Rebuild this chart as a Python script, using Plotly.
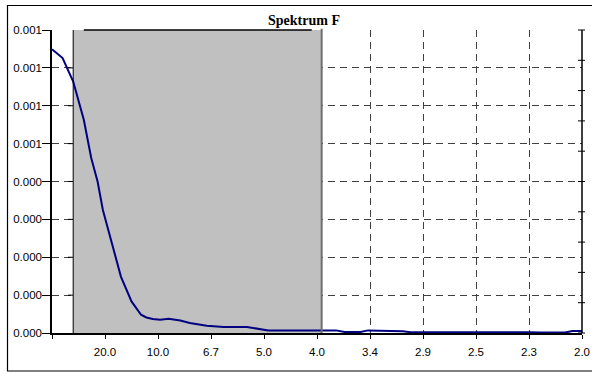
import plotly.graph_objects as go

# ---- data ----
freq = [0.000, 0.010, 0.020, 0.030, 0.037, 0.043, 0.048, 0.055, 0.065, 0.075,
        0.084, 0.089, 0.095, 0.102, 0.110, 0.121, 0.130, 0.146, 0.162, 0.184,
        0.204, 0.268, 0.276, 0.291, 0.298, 0.331, 0.338, 0.451, 0.460, 0.484,
        0.491, 0.500]
spectrum = [0.000749, 0.000726, 0.000664, 0.000563, 0.000462, 0.000400, 0.000325,
            0.000255, 0.000149, 0.0000833, 0.0000483, 0.0000410, 0.0000370,
            0.0000351, 0.0000377, 0.0000332, 0.0000264, 0.0000193, 0.0000158,
            0.0000158, 0.0000069, 0.0000069, 0.0000026, 0.0000026, 0.0000069,
            0.0000047, 0.0000020, 0.0000020, 0.0000010, 0.0000013, 0.0000050,
            0.0000050]

band = [0.02, 0.2544]          # shaded frequency band
band_top_line = [0.030, 0.245]

x_tickvals = [0.0, 0.05, 0.10, 0.15, 0.20, 0.25, 0.30, 0.35, 0.40, 0.45, 0.50]
x_ticktext = ["", "20.0", "10.0", "6.7", "5.0", "4.0", "3.4", "2.9", "2.5", "2.3", "2.0"]
y_tickvals = [0.0, 0.0001, 0.0002, 0.0003, 0.0004, 0.0005, 0.0006, 0.0007, 0.0008]
y_ticktext = ["0.000", "0.000", "0.000", "0.000", "0.000", "0.001", "0.001", "0.001", "0.001"]

X_MAX = 0.5
Y_MAX = 0.0008

fig = go.Figure()
# shaded band as a filled trace (drawn above gridlines, below the spectrum line)
fig.add_trace(go.Scatter(x=[band[0], band[1], band[1], band[0], band[0]],
                         y=[0, 0, Y_MAX, Y_MAX, 0], mode="lines", fill="toself",
                         fillcolor="#C0C0C0", line=dict(width=0, color="#C0C0C0"),
                         showlegend=False, hoverinfo="skip"))
fig.add_trace(go.Scatter(x=freq, y=spectrum, mode="lines",
                         line=dict(color="#000080", width=2), showlegend=False,
                         hoverinfo="skip"))

W, H = 592, 374
ML, MR, MT, MB = 52, 10, 30, 41
pw = W - ML - MR
ph = H - MT - MB

def px2paper_x(px):
    return (px - ML) / pw

def px2paper_y(py):
    return (H - MB - py) / ph

shapes = []
shapes.append(dict(type="line", xref="x", yref="paper", x0=band[1], x1=band[1], y0=0, y1=1.004,
                   line=dict(color="#707070", width=2), layer="above"))
shapes.append(dict(type="line", xref="x", yref="paper", x0=band_top_line[0], x1=band_top_line[1],
                   y0=1, y1=1, line=dict(color="#000000", width=1.5), layer="above"))
# short ticks at left edge of band
for v in y_tickvals[1:-1]:
    shapes.append(dict(type="line", xref="paper", yref="y",
                       x0=px2paper_x(68), x1=px2paper_x(73), y0=v, y1=v,
                       line=dict(color="#000000", width=1), layer="above"))
# left edge of band
shapes.append(dict(type="line", xref="x", yref="paper", x0=band[0], x1=band[0], y0=0, y1=1,
                   line=dict(color="#000000", width=1), layer="above"))
# right axis with cross ticks
shapes.append(dict(type="line", xref="paper", yref="paper", x0=1, x1=1, y0=0, y1=1,
                   line=dict(color="#000000", width=1.5), layer="above"))
for k in range(11):
    shapes.append(dict(type="line", xref="paper", yref="paper",
                       x0=px2paper_x(W - MR - 4), x1=px2paper_x(W - MR + 3), y0=k / 10, y1=k / 10,
                       line=dict(color="#000000", width=1), layer="above"))
# outer chart border
shapes.append(dict(type="rect", xref="paper", yref="paper",
                   x0=px2paper_x(7.5), x1=px2paper_x(595), y0=px2paper_y(371), y1=px2paper_y(5.5),
                   line=dict(color="#000000", width=1.2), fillcolor="rgba(0,0,0,0)", layer="above"))

fig.update_layout(
    width=W, height=H,
    margin=dict(l=ML, r=MR, t=MT, b=MB, autoexpand=False),
    paper_bgcolor="white", plot_bgcolor="white",
    shapes=shapes,
    title=dict(text="<b>Spektrum F</b>", x=304 / W, xanchor="center",
               y=1 - 20 / H, yanchor="middle",
               font=dict(family="Liberation Serif, Times New Roman, serif", size=14, color="#000000")),
    font=dict(family="Liberation Sans, Arial, sans-serif", size=11.5, color="#000000"),
    xaxis=dict(range=[0, X_MAX], tickmode="array", tickvals=x_tickvals, ticktext=x_ticktext,
               showline=True, linecolor="#000000", linewidth=1.5,
               ticks="outside", ticklen=4, tickcolor="#000000", ticklabelstandoff=3,
               showgrid=True, gridcolor="#404040", griddash="7px,5px", gridwidth=1,
               zeroline=False, fixedrange=True, automargin=False),
    yaxis=dict(range=[0, Y_MAX], tickmode="array", tickvals=y_tickvals, ticktext=y_ticktext,
               showline=True, linecolor="#000000", linewidth=1.5,
               ticks="outside", ticklen=8, tickcolor="#000000", ticklabelstandoff=-2,
               showgrid=True, gridcolor="#404040", griddash="7px,5px", gridwidth=1,
               zeroline=False, fixedrange=True, automargin=False),
)

fig.write_html("out.html", config={"displayModeBar": False},
               post_script="document.body.style.margin='0';document.body.style.overflow='hidden';")
